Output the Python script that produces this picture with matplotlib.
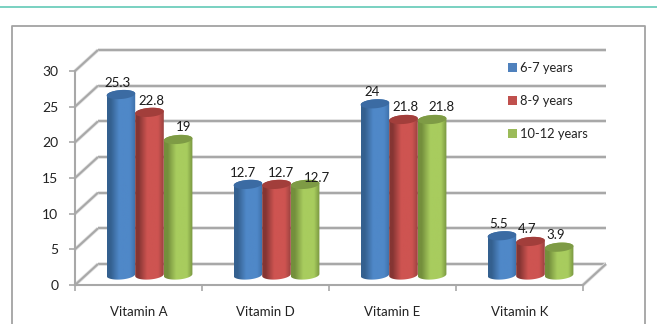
import numpy as np
import matplotlib
matplotlib.use('Agg')
import matplotlib.pyplot as plt
import matplotlib.patheffects as pe
from matplotlib.colors import LinearSegmentedColormap
from matplotlib.lines import Line2D
from matplotlib.patches import Patch, PathPatch, Polygon
from matplotlib.path import Path

categories = ['Vitamin A', 'Vitamin D', 'Vitamin E', 'Vitamin K']
series_names = ['6-7 years', '8-9 years', '10-12 years']
years_6_7 = [25.3, 12.7, 24, 5.5]
years_8_9 = [22.8, 12.7, 21.8, 4.7]
years_10_12 = [19, 12.7, 21.8, 3.9]
y_ticks = [0, 5, 10, 15, 20, 25, 30]

# value label nudges in pixels, one row per series
label_dx = [[-3, -5, -3, -3], [2, 4, 2, -3], [6, 12, 9, -3]]
label_dy = [[12, 11, 12, 12], [11, 11, 12, 12], [12, 6, 12, 12]]

# left edge, mid, right edge, top cap
colors = [
    ['#34608f', '#4f88c8', '#3d6fa8', '#3b6ba3'],
    ['#853533', '#ce5451', '#9c4240', '#a23e3b'],
    ['#748f3c', '#a8cc5e', '#789540', '#7e9b45'],
]
legend_colors = ['#4f81bd', '#c0504d', '#9bbb59']
grid_color = '#a8a8a8'

W, H = 657, 324
plt.rcParams['font.family'] = ['Lato', 'DejaVu Sans']

fig = plt.figure(figsize=(W / 100, H / 100), dpi=100)
ax = fig.add_axes([75 / W, 1 - 285 / H, 508 / W, 214 / H])
ax.set_xlim(0, 4)
ax.set_ylim(0, 30)
ppx = 508 / 4      # pixels per category
ppy = 214 / 30     # pixels per unit of value


def grid_line(xs, ys):
    ax.plot(xs, ys, color=grid_color, lw=1.5, clip_on=False, zorder=1,
            solid_capstyle='butt',
            path_effects=[pe.withStroke(linewidth=2.6, foreground='#e2e2e2')])


# back wall and left wall of the 3d box
back_dx, back_dy = 23 / ppx, 21 / ppy
for v in y_ticks:
    grid_line([back_dx, 4 + back_dx], [v + back_dy, v + back_dy])
    grid_line([0, back_dx], [v, v + back_dy])
grid_line([4, 4 + back_dx], [0, back_dy])


def draw_cylinder(xc, value, width, cols, z):
    # bars stand halfway into the box depth
    base = 10 / ppy
    rx = width / 2
    ry = 4.5 / ppy
    tilt = 0.07 * ppx / ppy
    t = np.linspace(0, np.pi, 40)
    top_x = xc + rx * np.cos(t)
    top_y = base + value + ry * np.sin(t) + tilt * rx * np.cos(t)
    bot_x = xc - rx * np.cos(t)
    bot_y = base - ry * np.sin(t) - tilt * rx * np.cos(t)
    outline = np.column_stack([np.r_[top_x, bot_x], np.r_[top_y, bot_y]])
    shape = PathPatch(Path(np.vstack([outline, outline[0]]), closed=True),
                      transform=ax.transData, fc='none', ec='none')
    ax.add_patch(shape)
    cmap = LinearSegmentedColormap.from_list('cyl', [(0, cols[0]), (0.12, cols[0]), (0.42, cols[1]),
                                                     (0.8, cols[1]), (1, cols[2])])
    img = ax.imshow(np.linspace(0, 1, 64).reshape(1, -1), cmap=cmap, aspect='auto', zorder=z,
                    extent=[xc - rx, xc + rx, base - 2 * ry, base + value + 2 * ry])
    img.set_clip_path(shape)
    t = np.linspace(0, 2 * np.pi, 60)
    cap = np.column_stack([xc + rx * np.cos(t),
                           base + value + ry * np.sin(t) + tilt * rx * np.cos(t)])
    ax.add_patch(Polygon(cap, closed=True, fc=cols[3], ec='none', zorder=z + 0.1, clip_on=False))


width = 28.6 / ppx
depth_dx = 11 / ppx
series = [years_6_7, years_8_9, years_10_12]
for i, name in enumerate(categories):
    for s, vals in enumerate(series):
        xc = i + 0.5 + depth_dx + (s - 1) * width
        z = 3 + i + s * 0.2
        draw_cylinder(xc, vals[i], width, colors[s], z)
        ax.annotate(f'{vals[i]:g}', (xc, vals[i] + 10 / ppy),
                    xytext=(label_dx[s][i], label_dy[s][i]), textcoords='offset pixels',
                    ha='center', va='center', fontsize=9.5, color='#1a1a1a', zorder=20,
                    annotation_clip=False)

ax.set_xlim(0, 4)
ax.set_ylim(0, 30)
ax.patch.set_alpha(0)
for side in ['top', 'right']:
    ax.spines[side].set_visible(False)
for side in ['left', 'bottom']:
    ax.spines[side].set_color(grid_color)
    ax.spines[side].set_linewidth(1.5)
ax.set_yticks(y_ticks)
ax.set_xticks(range(5))
ax.set_xticklabels([])
ax.set_xticks(np.arange(4) + 0.5, labels=categories, minor=True)
ax.tick_params(axis='x', which='major', length=4, width=1.2, color=grid_color)
ax.tick_params(axis='x', which='minor', length=0, pad=15, labelsize=9.5, labelcolor='#222222')
ax.tick_params(axis='y', length=4, width=1.2, color=grid_color, pad=8, labelsize=10,
               labelcolor='#222222')

handles = [Patch(fc=c, ec='none') for c in legend_colors]
fig.legend(handles, series_names, loc='upper left', bbox_to_anchor=(508 / W, 1 - 62 / H),
           frameon=False, fontsize=9.3, handlelength=0.7, handleheight=0.7,
           handletextpad=0.25, labelspacing=1.63, borderpad=0, borderaxespad=0,
           labelcolor='#222222')

# teal rule and the open-bottomed outer frame
fig.add_artist(Line2D([0, 1], [1 - 7 / H, 1 - 7 / H], color='#62c9b6', lw=1.2))
frame_x = [11.5 / W, 11.5 / W, 644.5 / W, 644.5 / W]
frame_y = [0, 1 - 26 / H, 1 - 26 / H, 0]
fig.add_artist(Line2D(frame_x, frame_y, color='#a3a3a3', lw=1.3))

fig.savefig('out.png', dpi=100)
